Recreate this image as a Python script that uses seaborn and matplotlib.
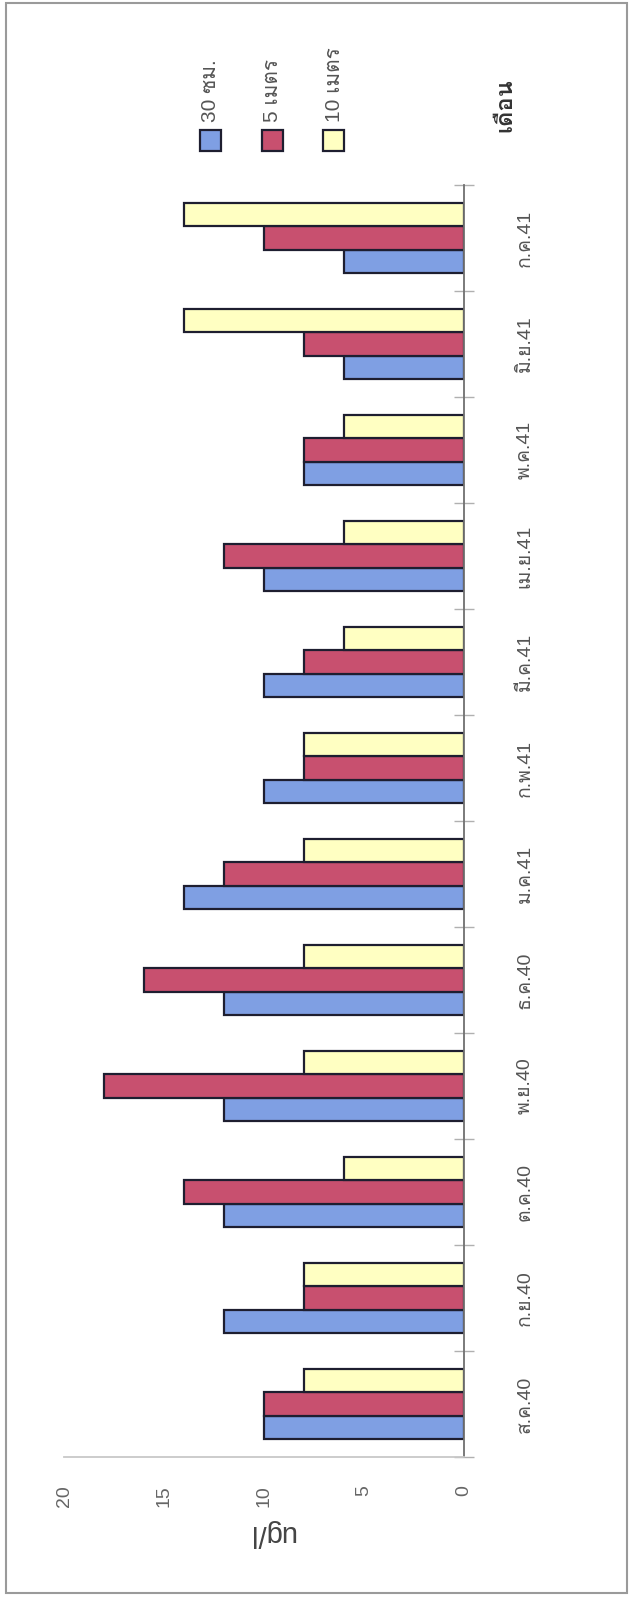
# Rotated grouped bar chart - ug/l by month and depth
import matplotlib
matplotlib.use("Agg")
import pandas as pd
import matplotlib.pyplot as plt
import seaborn as sns
from matplotlib import font_manager, ft2font
from matplotlib.patches import Rectangle

# ---- data ----
months = ["ส.ค.40", "ก.ย.40", "ต.ค.40", "พ.ย.40", "ธ.ค.40", "ม.ค.41",
          "ก.พ.41", "มี.ค.41", "เม.ย.41", "พ.ค.41", "มิ.ย.41", "ก.ค.41"]
depths = ["30 ซม.", "5 เมตร", "10 เมตร"]
val_30cm = [10, 12, 12, 12, 12, 14, 10, 10, 10, 8, 6, 6]
val_5m = [10, 8, 14, 18, 16, 12, 8, 8, 12, 8, 8, 10]
val_10m = [8, 8, 6, 8, 8, 8, 8, 6, 6, 6, 14, 14]
value_ticks = [0, 5, 10, 15, 20]
colors = ["#7f9fe3", "#c8506f", "#ffffc2"]

df = pd.DataFrame({
    "month": months * 3,
    "depth": [d for d in depths for _ in months],
    "value": val_30cm + val_5m + val_10m,
})


# ---- find a font with Thai glyphs ----
def thai_families():
    fams = []
    for f in font_manager.fontManager.ttflist:
        try:
            cmap = ft2font.FT2Font(f.fname).get_charmap()
        except Exception:
            continue
        if 0x0E01 in cmap and f.name not in fams:
            fams.append(f.name)
    return fams


sns.set_style("white")
plt.rcParams["font.family"] = ["Liberation Sans"] + thai_families() + ["DejaVu Sans"]

W, H = 632, 1597
fig = plt.figure(figsize=(W / 100, H / 100), dpi=100)


def fx(x):
    return x / W


def fy(y):
    return 1 - y / H


ax = fig.add_axes([fx(64), fy(1457), 400 / W, 1272 / H])

sns.barplot(data=df, x="value", y="month", hue="depth", order=months,
            hue_order=depths, palette=colors, saturation=1, width=0.66,
            edgecolor="#1e1e30", linewidth=1.6, orient="h", legend=False, ax=ax)

ax.set_xlim(20, 0)
ax.set_ylim(-0.5, len(months) - 0.5)
ax.set_xlabel("")
ax.set_ylabel("")

for s in ["left", "top"]:
    ax.spines[s].set_visible(False)
ax.spines["bottom"].set_color("#c8c8c8")
ax.spines["bottom"].set_linewidth(1.3)
ax.spines["right"].set_color("#707070")
ax.spines["right"].set_linewidth(1.3)

# value axis (bottom)
ax.set_xticks(value_ticks)
ax.set_xticklabels([str(v) for v in value_ticks])
ax.tick_params(axis="x", direction="inout", length=14, width=1, color="#b0b0b0",
               labelsize=14, labelcolor="#666666", labelrotation=90, pad=13)

# category axis (right)
ax.yaxis.tick_right()
ax.set_yticks(range(len(months)))
ax.set_yticklabels(months)
ax.set_yticks([i - 0.5 for i in range(len(months) + 1)], minor=True)
ax.tick_params(axis="y", which="major", length=0, labelsize=14,
               labelcolor="#555555", labelrotation=90, pad=38)
ax.tick_params(axis="y", which="minor", direction="inout", length=15, width=1,
               color="#b0b0b0", right=True, left=False)
for lab in ax.get_yticklabels():
    lab.set_verticalalignment("center")

# ---- legend drawn by hand (rotated) ----
leg_x = [210, 272, 334]
for xc, lab, c in zip(leg_x, depths, colors):
    fig.patches.append(Rectangle((fx(xc - 10.5), fy(151)), 21 / W, 21 / H,
                                 transform=fig.transFigure, facecolor=c,
                                 edgecolor="#1e1e30", linewidth=1.6))
    fig.text(fx(xc), fy(122), lab, rotation=90, ha="center", va="bottom",
             fontsize=15, color="#555555")

fig.text(fx(505), fy(105), "เดือน", rotation=90, ha="center", va="center",
         fontsize=17, fontweight="bold", color="#333333")
fig.text(fx(272), fy(1533), "ug/l", rotation=180, ha="center", va="center",
         fontsize=21, color="#444444")

# outer frame
fig.patches.append(Rectangle((fx(6), fy(1593)), 621 / W, 1590 / H,
                             transform=fig.transFigure, fill=False,
                             edgecolor="#9a9a9a", linewidth=1.5))

fig.savefig("out.png", dpi=100, facecolor="white")
plt.close(fig)
